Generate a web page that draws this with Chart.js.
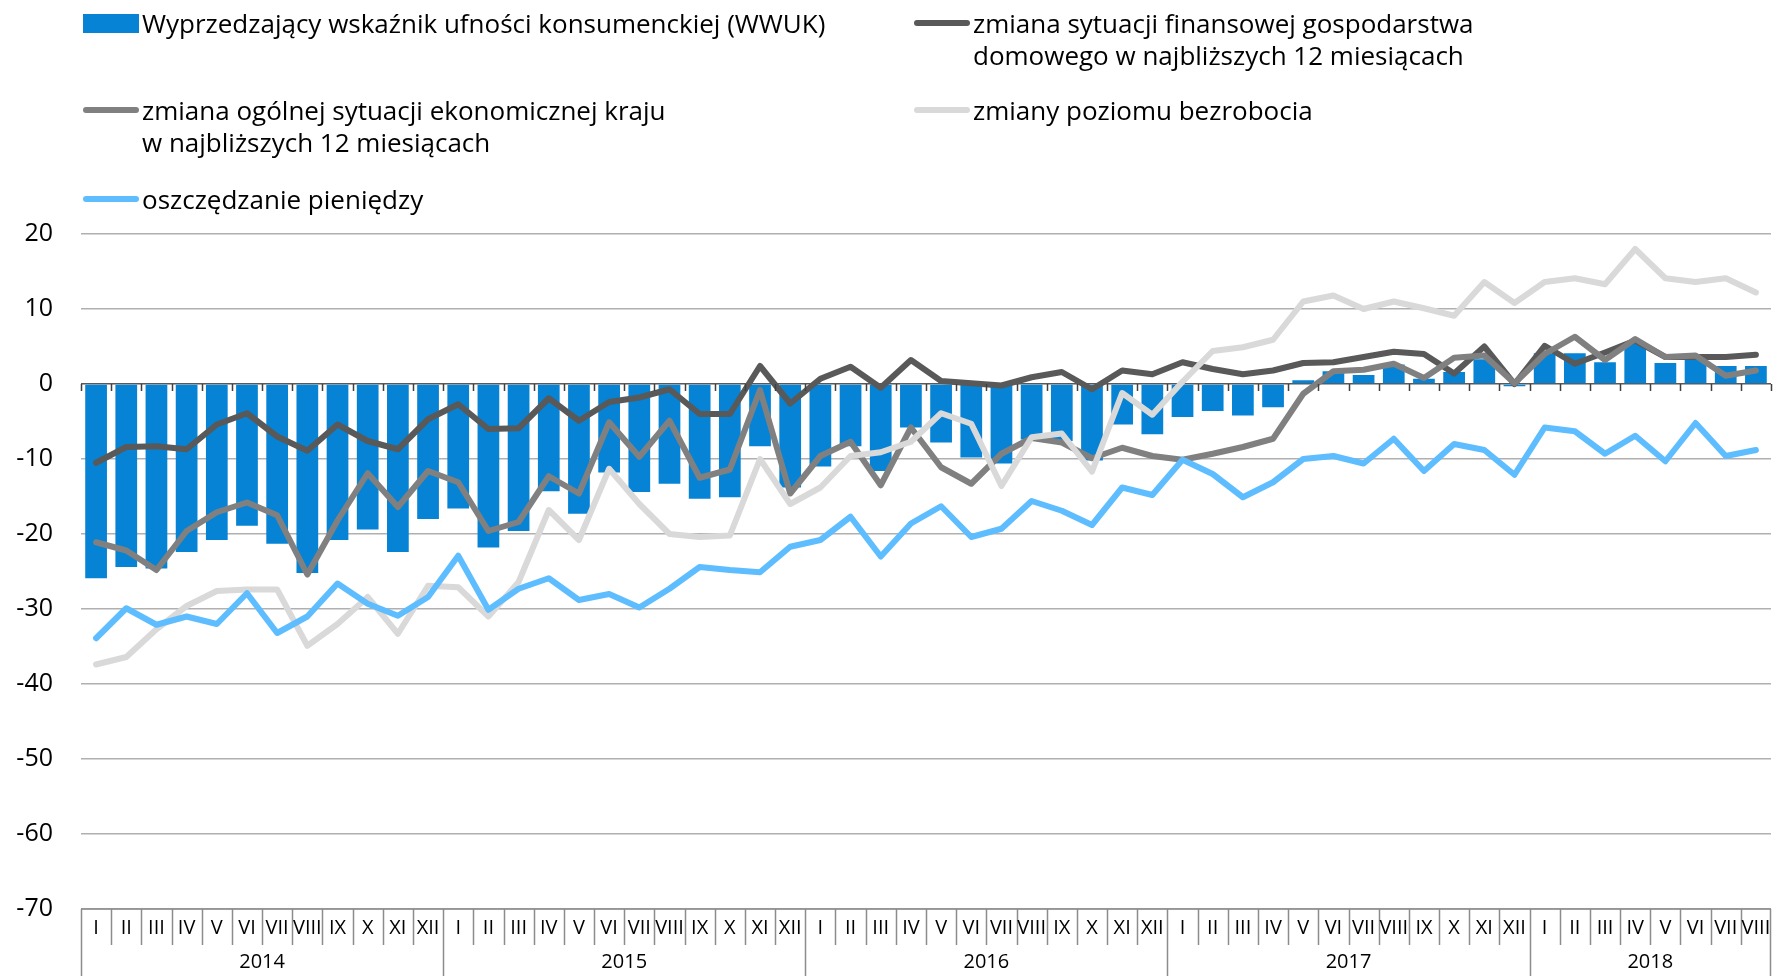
<!DOCTYPE html>
<html lang="pl">
<head>
<meta charset="utf-8">
<title>WWUK</title>
<script src="https://cdn.jsdelivr.net/npm/chart.js@4.4.1/dist/chart.umd.min.js"></script>
<style>
  body { margin: 0; background: #fff; }
  #wrap { position: relative; width: 1781px; height: 976px; font-family: "Open Sans", sans-serif; }
  #chart { position: absolute; left: 0; top: 0; }
  .item { position: absolute; font-size: 26px; line-height: 32px; color: #000; white-space: nowrap; }
  .sw { position: absolute; }
  .sw.line { height: 6px; border-radius: 3px; }
</style>
</head>
<body>
<div id="wrap">
  <canvas id="chart" width="1781" height="976"></canvas>
  <div class="sw" style="left:83px;top:14px;width:56px;height:19px;background:#0683d4"></div>
  <div class="item" style="left:142px;top:7px">Wyprzedzający wskaźnik ufności konsumenckiej (WWUK)</div>
  <div class="sw line" style="left:914px;top:20px;width:56px;background:#595959"></div>
  <div class="item" style="left:973px;top:7px">zmiana sytuacji finansowej gospodarstwa<br>domowego w najbliższych 12 miesiącach</div>
  <div class="sw line" style="left:83px;top:107px;width:56px;background:#808080"></div>
  <div class="item" style="left:142px;top:94px">zmiana ogólnej sytuacji ekonomicznej kraju<br>w najbliższych 12 miesiącach</div>
  <div class="sw line" style="left:914px;top:107px;width:56px;background:#d9d9d9"></div>
  <div class="item" style="left:973px;top:94px">zmiany poziomu bezrobocia</div>
  <div class="sw line" style="left:83px;top:196px;width:56px;background:#5ebdff"></div>
  <div class="item" style="left:142px;top:183px">oszczędzanie pieniędzy</div>
</div>
<script>
// Months I.2014 - VIII.2018
const years = ['2014', '2015', '2016', '2017', '2018'];
const monthsInYear = [12, 12, 12, 12, 8];
const romanMonths = ['I', 'II', 'III', 'IV', 'V', 'VI', 'VII', 'VIII', 'IX', 'X', 'XI', 'XII'];

// Wyprzedzający wskaźnik ufności konsumenckiej (WWUK)
const wwuk = [
  -25.9, -24.4, -24.6, -22.4, -20.8, -18.9, -21.3, -25.2, -20.8, -19.4, -22.4, -18.0,
  -16.6, -21.8, -19.6, -14.3, -17.3, -11.8, -14.4, -13.3, -15.3, -15.1, -8.3, -13.8,
  -11.0, -8.3, -11.6, -5.8, -7.8, -9.8, -10.6, -7.4, -7.6, -10.2, -5.4, -6.7,
  -4.4, -3.6, -4.2, -3.1, 0.5, 1.7, 1.2, 2.6, 0.7, 1.6, 3.3, -0.3,
  4.1, 4.1, 2.9, 5.6, 2.8, 3.3, 2.4, 2.4
];

// zmiana sytuacji finansowej gospodarstwa domowego
const household = [
  -10.5, -8.4, -8.3, -8.7, -5.4, -3.9, -7.0, -8.9, -5.4, -7.6, -8.7, -4.7,
  -2.7, -6.0, -5.9, -1.9, -4.9, -2.4, -1.8, -0.7, -4.0, -4.0, 2.4, -2.6,
  0.7, 2.3, -0.5, 3.2, 0.4, 0.1, -0.2, 0.9, 1.6, -0.7, 1.8, 1.3,
  2.9, 2.0, 1.3, 1.8, 2.8, 2.9, 3.6, 4.3, 4.0, 1.4, 5.0, 0.0,
  5.1, 2.7, 4.2, 5.8, 3.6, 3.6, 3.6, 3.9
];

// zmiana ogólnej sytuacji ekonomicznej kraju
const economy = [
  -21.1, -22.2, -24.8, -19.6, -17.1, -15.8, -17.5, -25.4, -18.2, -11.9, -16.4, -11.6,
  -13.1, -19.6, -18.4, -12.3, -14.6, -5.1, -9.7, -4.9, -12.5, -11.4, -0.8, -14.6,
  -9.6, -7.7, -13.5, -5.8, -11.1, -13.3, -9.3, -7.2, -7.8, -9.9, -8.5, -9.6,
  -10.1, -9.3, -8.4, -7.3, -1.3, 1.7, 1.9, 2.7, 0.8, 3.5, 3.8, 0.1,
  4.0, 6.3, 3.2, 6.0, 3.6, 3.8, 1.1, 1.8
];

// zmiany poziomu bezrobocia
const unemployment = [
  -37.4, -36.4, -32.7, -29.6, -27.6, -27.4, -27.4, -34.9, -32.0, -28.4, -33.3, -26.9,
  -27.1, -31.0, -26.4, -16.8, -20.8, -11.3, -16.0, -20.0, -20.4, -20.2, -10.0, -16.0,
  -13.8, -9.6, -9.1, -7.7, -3.9, -5.3, -13.6, -7.1, -6.6, -11.7, -1.2, -4.1,
  0.3, 4.4, 4.9, 5.9, 11.0, 11.8, 10.0, 11.0, 10.1, 9.1, 13.6, 10.8,
  13.6, 14.1, 13.3, 18.0, 14.1, 13.6, 14.1, 12.2
];

// oszczędzanie pieniędzy
const savings = [
  -33.9, -29.9, -32.1, -31.0, -32.0, -27.9, -33.2, -31.0, -26.6, -29.3, -30.9, -28.4,
  -22.9, -30.1, -27.3, -25.9, -28.8, -28.0, -29.8, -27.3, -24.4, -24.8, -25.1, -21.7,
  -20.8, -17.7, -23.0, -18.6, -16.3, -20.4, -19.3, -15.6, -16.9, -18.8, -13.8, -14.8,
  -10.1, -12.0, -15.1, -13.1, -10.0, -9.6, -10.6, -7.3, -11.6, -8.0, -8.8, -12.1,
  -5.8, -6.3, -9.3, -6.9, -10.3, -5.2, -9.6, -8.8
];

// Build month labels from the years
const labels = [];
years.forEach((yr, yi) => {
  for (let m = 0; m < monthsInYear[yi]; m++) labels.push(romanMonths[m]);
});

const fontFamily = '"Open Sans", sans-serif';

// Draws the small ticks on the zero line and the two-row month/year axis box
const axisBoxPlugin = {
  id: 'axisBox',
  afterDatasetsDraw(chart) {
    const { ctx, scales: { x, y } } = chart;
    const step = x.getPixelForValue(1) - x.getPixelForValue(0);
    const y0 = y.getPixelForValue(0);
    ctx.save();
    ctx.strokeStyle = '#404040';
    ctx.lineWidth = 1.5;
    ctx.beginPath();
    for (let i = 0; i <= labels.length; i++) {
      const px = Math.round(x.getPixelForValue(0) - step / 2 + i * step) + 0.5;
      ctx.moveTo(px, y0);
      ctx.lineTo(px, y0 + 7);
    }
    ctx.stroke();
    ctx.restore();
  },
  afterDraw(chart) {
    const { ctx, chartArea, scales: { x } } = chart;
    const step = x.getPixelForValue(1) - x.getPixelForValue(0);
    const left = x.getPixelForValue(0) - step / 2;
    const top = chartArea.bottom;
    const monthBottom = top + 36;
    const bottom = chart.height;
    ctx.save();
    ctx.strokeStyle = '#8c8c8c';
    ctx.lineWidth = 1.5;
    ctx.beginPath();
    ctx.moveTo(left, top);
    ctx.lineTo(chartArea.right, top);
    let idx = 0;
    years.forEach((yr, yi) => {
      for (let m = 1; m < monthsInYear[yi]; m++) {
        const px = Math.round(left + (idx + m) * step) + 0.5;
        ctx.moveTo(px, top);
        ctx.lineTo(px, monthBottom);
      }
      const bx = Math.round(left + idx * step) + 0.5;
      ctx.moveTo(bx, top);
      ctx.lineTo(bx, bottom);
      idx += monthsInYear[yi];
    });
    const ex = Math.round(left + idx * step) - 0.5;
    ctx.moveTo(ex, top);
    ctx.lineTo(ex, bottom);
    ctx.stroke();

    ctx.fillStyle = '#000';
    ctx.textAlign = 'center';
    ctx.textBaseline = 'middle';
    ctx.font = '20px ' + fontFamily;
    labels.forEach((lab, i) => {
      ctx.fillText(lab, x.getPixelForValue(i), top + 19);
    });
    ctx.font = '20px ' + fontFamily;
    idx = 0;
    years.forEach((yr, yi) => {
      const cx = left + (idx + monthsInYear[yi] / 2) * step;
      ctx.fillText(yr, cx, top + 53);
      idx += monthsInYear[yi];
    });
    ctx.restore();
  }
};

const lineStyle = {
  type: 'line',
  borderWidth: 6,
  pointRadius: 0,
  pointHoverRadius: 0,
  tension: 0,
  borderCapStyle: 'round',
  borderJoinStyle: 'round',
  fill: false
};

new Chart(document.getElementById('chart').getContext('2d'), {
  type: 'bar',
  data: {
    labels: labels,
    datasets: [
      {
        label: 'Wyprzedzający wskaźnik ufności konsumenckiej (WWUK)',
        data: wwuk,
        backgroundColor: '#0683d4',
        categoryPercentage: 1.0,
        barPercentage: 0.72,
        order: 5
      },
      { ...lineStyle, label: 'zmiana sytuacji finansowej gospodarstwa domowego', data: household, borderColor: '#595959', order: 4 },
      { ...lineStyle, label: 'zmiana ogólnej sytuacji ekonomicznej kraju', data: economy, borderColor: '#808080', order: 3 },
      { ...lineStyle, label: 'zmiany poziomu bezrobocia', data: unemployment, borderColor: '#d9d9d9', order: 2 },
      { ...lineStyle, label: 'oszczędzanie pieniędzy', data: savings, borderColor: '#5ebdff', order: 1 }
    ]
  },
  options: {
    responsive: false,
    animation: false,
    layout: { padding: { top: 234, right: 10, bottom: 0, left: 0 } },
    plugins: {
      legend: { display: false },
      tooltip: { enabled: false }
    },
    scales: {
      x: {
        grid: { display: false },
        border: { display: false },
        ticks: { display: false },
        afterFit(scale) { scale.height = 67; }
      },
      y: {
        min: -70,
        max: 20,
        ticks: {
          stepSize: 10,
          padding: 28,
          color: '#000',
          font: { family: fontFamily, size: 25 }
        },
        grid: {
          drawTicks: false,
          lineWidth: 1.5,
          color: ctx => ctx.tick && ctx.tick.value === 0 ? '#595959' : '#b0b0b0'
        },
        border: { display: false },
        afterFit(scale) { scale.width = 81; }
      }
    }
  },
  plugins: [axisBoxPlugin]
});
</script>
</body>
</html>
